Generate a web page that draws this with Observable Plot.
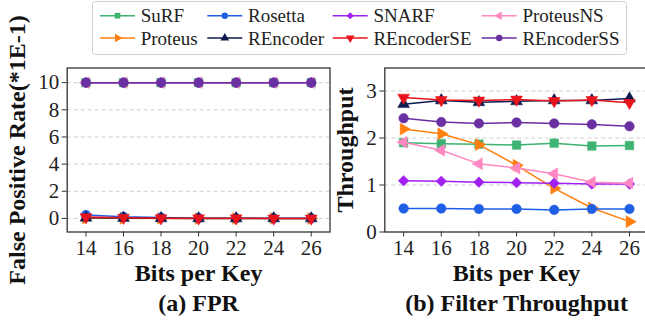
<!DOCTYPE html>
<html>
<head>
<meta charset="utf-8">
<script src="https://cdn.jsdelivr.net/npm/d3@7"></script>
<script src="https://cdn.jsdelivr.net/npm/@observablehq/plot@0.6"></script>
<style>
  html, body { margin: 0; padding: 0; background: white; }
  #c { position: relative; width: 645px; height: 327px; overflow: hidden; background: white; }
  #c svg { position: absolute; max-width: none; }
  #c svg, #c svg text, #c svg g { font-family: 'Liberation Serif', 'Times New Roman', serif !important; }
</style>
</head>
<body>
<div id="c"></div>
<script>
// ---- data ----
const bits = [14, 16, 18, 20, 22, 24, 26];
const seriesNames = ["SuRF", "Proteus", "Rosetta", "REncoder", "SNARF", "REncoderSE", "ProteusNS", "REncoderSS"];

// False positive rate (*1E-1)
const fprSuRF       = [10, 10, 10, 10, 10, 10, 10];
const fprProteus    = [0.02, 0.01, 0.0, 0.0, 0.0, 0.0, 0.0];
const fprRosetta    = [0.25, 0.12, 0.06, 0.02, 0.01, 0.01, 0.01];
const fprREncoder   = [0.05, 0.03, 0.01, 0.0, 0.0, 0.0, 0.0];
const fprSNARF      = [10, 10, 10, 10, 10, 10, 10];
const fprREncoderSE = [0.1, 0.05, 0.02, 0.01, 0.01, 0.0, 0.0];
const fprProteusNS  = [10, 10, 10, 10, 10, 10, 10];
const fprREncoderSS = [10, 10, 10, 10, 10, 10, 10];

// Filter throughput
const tpSuRF       = [1.90, 1.88, 1.87, 1.85, 1.89, 1.83, 1.84];
const tpProteus    = [2.19, 2.09, 1.86, 1.42, 0.93, 0.51, 0.22];
const tpRosetta    = [0.50, 0.50, 0.49, 0.49, 0.47, 0.49, 0.49];
const tpREncoder   = [2.72, 2.80, 2.76, 2.78, 2.80, 2.80, 2.84];
const tpSNARF      = [1.09, 1.08, 1.06, 1.05, 1.04, 1.02, 1.02];
const tpREncoderSE = [2.86, 2.81, 2.80, 2.82, 2.79, 2.81, 2.75];
const tpProteusNS  = [1.91, 1.74, 1.45, 1.36, 1.24, 1.06, 1.04];
const tpREncoderSS = [2.42, 2.34, 2.31, 2.33, 2.31, 2.29, 2.25];

const fprTicks = [0, 2, 4, 6, 8, 10];
const tpTicks = [0, 1, 2, 3];

// ---- styles ----
const colors = ["#3cb371", "#ff7f0e", "#1f5fe6", "#0d1b4f", "#a020f0", "#e8141c", "#ff88c3", "#6a2fa0"];
const symbols = ["square", "triangle", "circle", "triangle", "diamond2", "triangle", "triangle", "circle"];
const rotations = [0, 90, 0, 0, 0, 180, -90, 0];

const fprSeries = [fprSuRF, fprProteus, fprRosetta, fprREncoder, fprSNARF, fprREncoderSE, fprProteusNS, fprREncoderSS];
const tpSeries = [tpSuRF, tpProteus, tpRosetta, tpREncoder, tpSNARF, tpREncoderSE, tpProteusNS, tpREncoderSS];

function rows(seriesArr) {
  return seriesArr.map((vals, i) => bits.map((b, j) => ({name: seriesNames[i], x: b, y: vals[j]})));
}

const FONT = "'Liberation Serif', 'Times New Roman', serif";
const container = document.getElementById("c");

function seriesMarks(data) {
  const marks = [];
  data.forEach((d, i) => {
    marks.push(Plot.line(d, {x: "x", y: "y", stroke: colors[i], strokeWidth: 1.5}));
    marks.push(Plot.dot(d, {x: "x", y: "y", fill: colors[i], stroke: colors[i], strokeWidth: 0.5,
      symbol: symbols[i], rotate: rotations[i], r: symbols[i] === "triangle" ? 4.4 : 4.8}));
  });
  return marks;
}

function panel({left, width, marginLeft, marginRight, yDomain, yTicks, data, yLabel, yLabelDx, title}) {
  const svg = Plot.plot({
    width, height: 327,
    marginLeft, marginRight, marginTop: 67.5, marginBottom: 95.5,
    style: {fontFamily: FONT, fontSize: "21px", background: "transparent", overflow: "visible"},
    x: {domain: [13, 27]},
    y: {domain: yDomain},
    marks: [
      Plot.gridY(yTicks, {stroke: "#c8c8c8", strokeOpacity: 1, strokeDasharray: "4,3", strokeWidth: 0.9}),
      ...seriesMarks(data),
      Plot.frame({stroke: "#333", strokeWidth: 1.3}),
      Plot.axisX(bits, {tickSize: 5, tickPadding: 3, label: null, fontSize: 21, fill: "#222", stroke: "#333"}),
      Plot.axisY(yTicks, {tickSize: 5, tickPadding: 3, label: null, fontSize: 21, fill: "#222", stroke: "#333"}),
      Plot.text(["Bits per Key"], {frameAnchor: "bottom", lineAnchor: "middle", dy: 41, fontWeight: "bold", fontSize: 24, fill: "#111"}),
      Plot.text([title], {frameAnchor: "bottom", lineAnchor: "middle", dy: 71, fontWeight: "bold", fontSize: 24, fill: "#111"}),
      Plot.text([yLabel], {frameAnchor: "left", textAnchor: "middle", lineAnchor: "middle", dx: yLabelDx, rotate: -90, fontWeight: "bold", fontSize: 24, fill: "#111"})
    ]
  });
  svg.setAttribute("font-family", FONT);
  svg.style.left = left + "px";
  svg.style.top = "0px";
  container.appendChild(svg);
}

panel({left: 0, width: 335, marginLeft: 66.7, marginRight: 5.5, yDomain: [-1.0, 11.08], yTicks: fprTicks,
  data: rows(fprSeries), yLabel: "False Positive Rate(*1E-1)", yLabelDx: -50, title: "(a) FPR"});
panel({left: 330, width: 320, marginLeft: 54.3, marginRight: 2.2, yDomain: [0, 3.49], yTicks: tpTicks,
  data: rows(tpSeries), yLabel: "Throughput", yLabelDx: -39, title: "(b) Filter Throughput"});

// ---- legend ----
const lg = d3.create("svg").attr("width", 645).attr("height", 60)
  .style("left", "0px").style("top", "0px").attr("font-family", FONT);
lg.append("rect").attr("x", 92.5).attr("y", 1.5).attr("width", 534).attr("height", 53).attr("rx", 3)
  .attr("fill", "white").attr("fill-opacity", 0.9).attr("stroke", "#d0d0d0").attr("stroke-width", 1);
const colX = [100, 207.3, 332.7, 481.7];
const rowY = [15.7, 38];
const symMap = {square: d3.symbolSquare, triangle: d3.symbolTriangle, circle: d3.symbolCircle, diamond2: d3.symbolDiamond2};
seriesNames.forEach((name, i) => {
  const cx = colX[Math.floor(i / 2)], cy = rowY[i % 2];
  const g = lg.append("g");
  g.append("line").attr("x1", cx).attr("x2", cx + 35).attr("y1", cy).attr("y2", cy)
    .attr("stroke", colors[i]).attr("stroke-width", 1.5);
  const rr = 3.2;
  g.append("path").attr("d", d3.symbol(symMap[symbols[i]], rr * rr * Math.PI)())
    .attr("transform", `translate(${cx + 17.5},${cy}) rotate(${rotations[i]})`)
    .attr("fill", colors[i]);
  g.append("text").attr("x", cx + 40.7).attr("y", cy).attr("dy", "0.35em")
    .attr("font-size", 19).attr("fill", "#222").attr("font-family", FONT).text(name);
});
container.appendChild(lg.node());
</script>
</body>
</html>
